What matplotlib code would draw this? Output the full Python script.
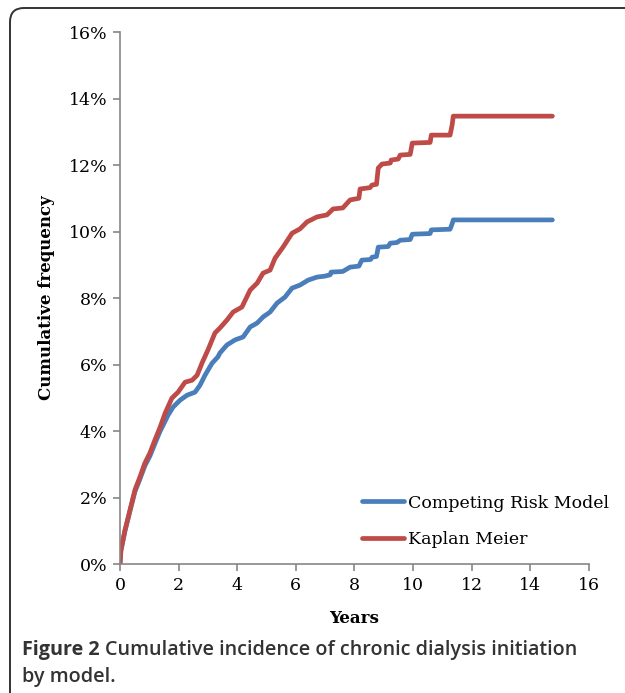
import matplotlib
matplotlib.use("Agg")
import matplotlib.pyplot as plt
from matplotlib.patches import FancyBboxPatch
from matplotlib.transforms import IdentityTransform
from matplotlib.ticker import PercentFormatter

# Kaplan Meier curve (years, cumulative %)
km_years = [0, 0.03, 0.17, 0.34, 0.51, 0.68, 0.85, 1.02, 1.19, 1.37, 1.54, 1.77, 1.98,
            2.22, 2.46, 2.63, 2.80, 3.00, 3.24, 3.41, 3.65, 3.86, 4.16, 4.44, 4.68, 4.88,
            5.12, 5.29, 5.56, 5.87, 6.14, 6.38, 6.72, 7.06, 7.27, 7.60, 7.85, 8.15, 8.19,
            8.53, 8.60, 8.75, 8.81, 8.94, 9.22, 9.25, 9.49, 9.56, 9.90, 9.97, 10.58, 10.62,
            11.26, 11.33, 11.37, 14.75]
km_pct = [0, 0.42, 1.02, 1.62, 2.23, 2.62, 3.04, 3.34, 3.73, 4.12, 4.54, 4.99, 5.17,
          5.47, 5.53, 5.68, 6.05, 6.44, 6.95, 7.10, 7.34, 7.58, 7.73, 8.24, 8.45, 8.75,
          8.84, 9.20, 9.53, 9.95, 10.08, 10.29, 10.44, 10.50, 10.68, 10.71, 10.95, 11.00, 11.28,
          11.32, 11.40, 11.42, 11.91, 12.03, 12.06, 12.15, 12.18, 12.30, 12.32, 12.66, 12.68, 12.90,
          12.90, 13.20, 13.47, 13.47]

# Competing risk model curve
cr_years = [0, 0.03, 0.17, 0.34, 0.51, 0.68, 0.85, 1.02, 1.19, 1.37, 1.54, 1.64, 1.81,
            2.05, 2.29, 2.56, 2.73, 2.90, 3.14, 3.34, 3.41, 3.65, 3.92, 4.20, 4.44, 4.68,
            4.88, 5.12, 5.36, 5.63, 5.87, 6.14, 6.42, 6.72, 6.99, 7.17, 7.20, 7.60, 7.85,
            8.15, 8.25, 8.55, 8.60, 8.75, 8.81, 9.15, 9.22, 9.45, 9.56, 9.90, 9.97, 10.58,
            10.62, 11.26, 11.33, 11.37, 14.75]
cr_pct = [0, 0.40, 1.00, 1.60, 2.18, 2.56, 2.96, 3.25, 3.62, 4.00, 4.30, 4.48, 4.72,
          4.93, 5.08, 5.17, 5.38, 5.68, 6.04, 6.23, 6.35, 6.59, 6.74, 6.83, 7.13, 7.25,
          7.43, 7.58, 7.85, 8.03, 8.30, 8.39, 8.54, 8.63, 8.66, 8.70, 8.78, 8.80, 8.93,
          8.96, 9.14, 9.16, 9.23, 9.25, 9.53, 9.55, 9.65, 9.67, 9.74, 9.76, 9.92, 9.94,
          10.05, 10.07, 10.23, 10.35, 10.35]

fig = plt.figure(figsize=(6.25, 6.93), dpi=100)
ax = fig.add_axes([0.192, 0.186, 0.7504, 0.7678])

ax.plot(cr_years, cr_pct, color="#4A7EBB", lw=3.4, label="Competing Risk Model",
        solid_capstyle="round", solid_joinstyle="round")
ax.plot(km_years, km_pct, color="#BE4B48", lw=3.4, label="Kaplan Meier",
        solid_capstyle="round", solid_joinstyle="round")

ax.set_xlim(0, 16)
ax.set_ylim(0, 16)
ax.set_xticks(range(0, 17, 2))
ax.set_yticks(range(0, 17, 2))
ax.yaxis.set_major_formatter(PercentFormatter(decimals=0))

for s in ["top", "right"]:
    ax.spines[s].set_visible(False)
for s in ["left", "bottom"]:
    ax.spines[s].set_color("#868686")
    ax.spines[s].set_linewidth(1.2)
ax.tick_params(colors="#868686", length=5, width=1.2, labelcolor="black",
               labelsize=12.5, pad=4)
for lab in ax.get_xticklabels() + ax.get_yticklabels():
    lab.set_fontfamily("DejaVu Serif")

ax.set_xlabel("Years", fontfamily="DejaVu Serif", fontweight="bold", fontsize=12, labelpad=12)
ax.set_ylabel("Cumulative frequency", fontfamily="DejaVu Serif", fontweight="bold",
              fontsize=12, labelpad=10)

ax.legend(loc="lower right", bbox_to_anchor=(1.075, 0.0), frameon=False,
          prop={"family": "DejaVu Serif", "size": 12.5}, handlelength=2.4,
          handletextpad=0.2, labelspacing=1.15)

# rounded frame around the figure
frame = FancyBboxPatch((10, -30), 650, 715, boxstyle="round,pad=0,rounding_size=14",
                       transform=IdentityTransform(), fill=False, ec="#333333", lw=1.4)
fig.patches.append(frame)

# caption
cap_font = {"family": "Open Sans", "size": 14.2, "color": "#333333"}
t1 = fig.text(22 / 625, 1 - 650 / 693, "Figure 2 ", fontweight="bold", va="center", **cap_font)
fig.canvas.draw()
bb = t1.get_window_extent()
fig.text(bb.x1 / 625, 1 - 650 / 693, "Cumulative incidence of chronic dialysis initiation",
         fontweight="semibold", va="center", **cap_font)
fig.text(22 / 625, 1 - 677 / 693, "by model.", fontweight="semibold", va="center", **cap_font)

fig.savefig("out.png", dpi=100)
